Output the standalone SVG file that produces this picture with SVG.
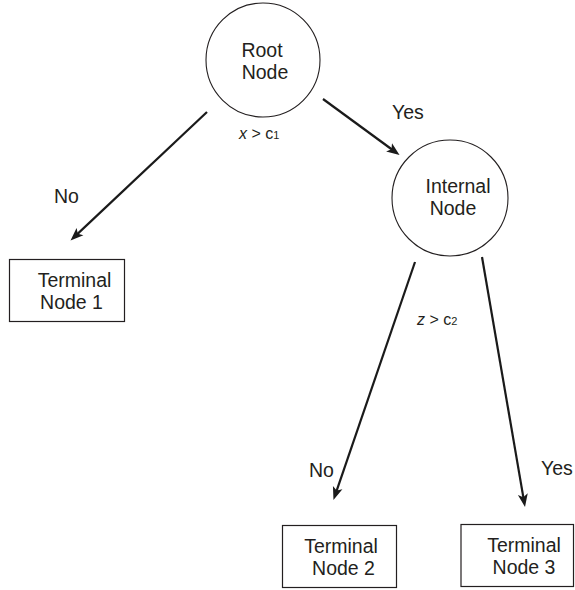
<svg xmlns="http://www.w3.org/2000/svg" width="575" height="590" viewBox="0 0 575 590">
  <style>
    .bg { fill: #ffffff; }
    .circ { fill: #ffffff; stroke: #231f20; stroke-width: 1.1; }
    .box { fill: #ffffff; stroke: #231f20; stroke-width: 1.2; }
    .t { font-family: "Liberation Sans", Arial, sans-serif; font-size: 19.5px; fill: #231f20; }
    .lbl { font-family: "Liberation Sans", Arial, sans-serif; font-size: 16px; fill: #231f20; }
    .it { font-style: italic; }
    .sub { font-size: 11px; }
    .edge { stroke: #1a1a1a; stroke-width: 2.2; fill: none; marker-end: url(#arr); }
  </style>
  <defs>
    <marker id="arr" markerUnits="userSpaceOnUse" markerWidth="14" markerHeight="12" viewBox="0 0 14 12" refX="7" refY="6" orient="auto">
      <path d="M0,1 L13,6 L0,11 L3,6 Z" fill="#1a1a1a"/>
    </marker>
  </defs>
  <rect class="bg" x="0" y="0" width="575" height="590"/>

  <g id="connectors">
    <line class="edge" x1="207" y1="112" x2="74.9" y2="236.4"/>
    <line class="edge" x1="323" y1="99" x2="394.7" y2="151.5"/>
    <line class="edge" x1="415" y1="262" x2="335.4" y2="494.3"/>
    <line class="edge" x1="482" y1="257" x2="524" y2="501.1"/>
    <text class="t" x="392" y="119">Yes</text>
    <text class="t" x="54" y="203">No</text>
    <text class="t" x="309" y="477">No</text>
    <text class="t" x="541" y="475">Yes</text>
    <text class="lbl" x="239" y="139"><tspan class="it">x</tspan> &gt; c<tspan class="sub">1</tspan></text>
    <text class="lbl" x="417" y="325"><tspan class="it">z</tspan> &gt; c<tspan class="sub">2</tspan></text>
  </g>

  <g id="root-node">
    <circle class="circ" cx="263" cy="60" r="57"/>
    <text class="t" x="262" y="57" text-anchor="middle">Root</text>
    <text class="t" x="265" y="79" text-anchor="middle">Node</text>
  </g>

  <g id="internal-node">
    <circle class="circ" cx="450" cy="198" r="58"/>
    <text class="t" x="458" y="193" text-anchor="middle">Internal</text>
    <text class="t" x="453" y="215" text-anchor="middle">Node</text>
  </g>

  <g id="terminal-node-1">
    <rect class="box" x="9.5" y="259.5" width="115" height="62"/>
    <text class="t" x="74.5" y="287" text-anchor="middle">Terminal</text>
    <text class="t" x="71.5" y="309" text-anchor="middle">Node 1</text>
  </g>

  <g id="terminal-node-2">
    <rect class="box" x="282.5" y="525.5" width="114" height="62"/>
    <text class="t" x="341" y="553" text-anchor="middle">Terminal</text>
    <text class="t" x="343.5" y="575" text-anchor="middle">Node 2</text>
  </g>

  <g id="terminal-node-3">
    <rect class="box" x="461" y="524.5" width="112.5" height="62"/>
    <text class="t" x="524" y="552" text-anchor="middle">Terminal</text>
    <text class="t" x="524" y="574" text-anchor="middle">Node 3</text>
  </g>
</svg>
